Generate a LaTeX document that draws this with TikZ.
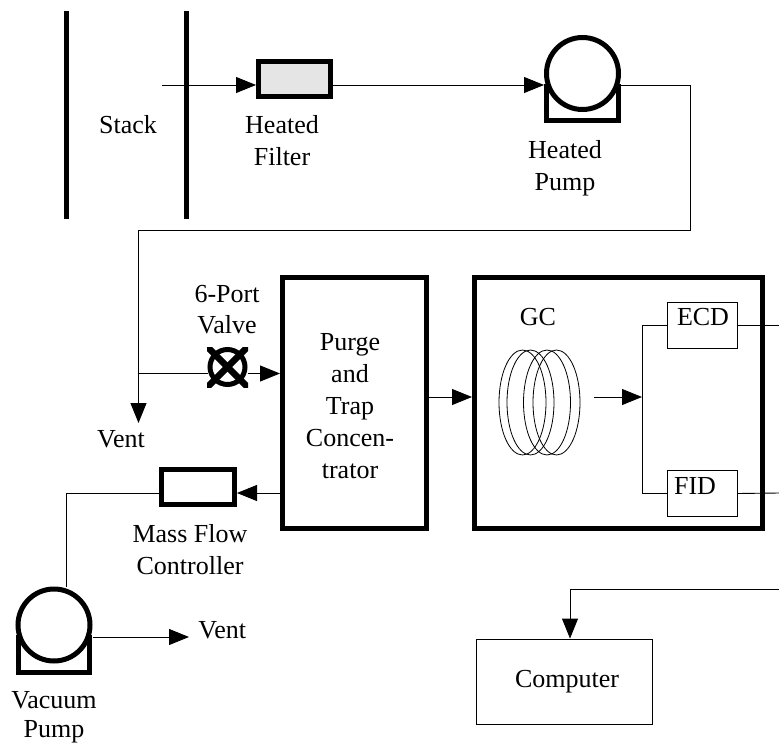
\documentclass[tikz,border=0pt]{standalone}
\usepackage{fontspec}
\setmainfont{Liberation Serif}
\usetikzlibrary{arrows.meta, calc}

\begin{document}
\begin{tikzpicture}[
        x = 1pt, y = -1pt, line width = 0.9pt, line join = miter,
        font = \fontsize{26}{32}\selectfont,
        flow/.style = {-{Triangle[length = 20pt, width = 16pt]}},
        heavy/.style = {line width = 5pt},
        vessel/.style = {draw, heavy, inner sep = 0},
        pumpbody/.style = {vessel, circle, minimum size = 72},
        label/.style = {anchor = base, align = center, inner sep = 0}]
        \useasboundingbox (0, 0) rectangle (779, 744);
        \draw[heavy] (66, 11) -- (66, 219);
        \draw[heavy] (186, 11) -- (186, 219);
        \node[label] at (128, 133) (stack) {Stack};
        \coordinate (stack_tap) at (162, 85);

        \node[vessel, fill = black!10, minimum width = 72, minimum height = 35]
            at (294.5, 79) (filter) {};
        \node[label] at (282, 133) (filter_top) {Heated};
        \node[label] at (282, 165) (filter_bottom) {Filter};

        \node[pumpbody] at (582.5, 73.5) (heated_pump) {};
        \draw[heavy] ($ (heated_pump) + (-36, 10) $) -- ++(0, 37) -- ++(72, 0) -- ++(0, -37);
        \node[label] at (565, 158) (heated_top) {Heated};
        \node[label] at (565, 190) (heated_bottom) {Pump};

        \node[vessel, circle, minimum size = 35] at (227.5, 367) (valve) {};
        \begin{scope}
            \clip ($ (valve) + (-20.5, -20) $) rectangle ($ (valve) + (20.5, 20) $);
            \draw[line width = 6.5pt] ($ (valve) + (-25, -25) $) -- ($ (valve) + (25, 25) $);
            \draw[line width = 6.5pt] ($ (valve) + (-25, 25) $) -- ($ (valve) + (25, -25) $);
        \end{scope}
        \node[label] at (227, 302) (valve_top) {6-Port};
        \node[label] at (227, 333) (valve_bottom) {Valve};

        \node[vessel, minimum width = 144, minimum height = 250.5]
            at (354.5, 402.75) (purge) {};
        \node[label] at (350, 350) (purge_a) {Purge};
        \node[label] at (350, 382) (purge_b) {and};
        \node[label] at (350, 414) (purge_c) {Trap};
        \node[label] at (350, 446) (purge_d) {Concen-};
        \node[label] at (350, 478) (purge_e) {trator};

        \node[vessel, minimum width = 288, minimum height = 250.5]
            at (618.5, 402.75) (gc) {};
        \node[label] at (538, 325) (gc_label) {GC};
        \foreach \cx in {522.5, 530.5, 547, 556.5}
            \draw[line width = 0.8pt] (\cx, 402.5) ellipse (23.5 and 52.5);
        \coordinate (gc_out) at (594, 397);

        \node[draw, minimum width = 70, minimum height = 46] at (702, 325) (ecd) {};
        \node[label] at (703, 325) (ecd_label) {ECD};
        \node[draw, minimum width = 70, minimum height = 46] at (702, 493.5) (fid) {};
        \node[label] at (695, 494) (fid_label) {FID};
        \coordinate (branch) at (642, 397);

        \node[label] at (121, 447) (vent_a) {Vent};

        \node[vessel, minimum width = 73, minimum height = 35]
            at (198, 487) (mfc) {};
        \node[label] at (190, 542) (mfc_top) {Mass Flow};
        \node[label] at (190, 574) (mfc_bottom) {Controller};
        \coordinate (mfc_level) at (198, 493);

        \node[pumpbody] at (54, 625) (vacuum_pump) {};
        \draw[heavy] ($ (vacuum_pump) + (-35.5, 10) $) -- ++(0, 37.5) -- ++(71, 0) -- ++(0, -37.5);
        \node[label] at (54, 708) (vacuum_top) {Vacuum};
        \node[label] at (54, 737) (vacuum_bottom) {Pump};
        \node[label, anchor = base west] at (198, 638) (vent_b) {Vent};
        \coordinate (vent_b_tip) at (189, 637);

        \node[draw, minimum width = 176, minimum height = 85] at (564, 681.5) (computer) {};
        \node[label] at (567, 687) (computer_label) {Computer};

        \coordinate (ecd_end) at (779, 325);
        \coordinate (fid_end) at (779, 493);
        \coordinate (computer_start) at (779, 589);
        \coordinate (computer_turn) at (570, 589);
        \coordinate (loop_right) at (690, 230);
        \coordinate (loop_left) at (138.5, 230);
        \coordinate (vent_a_tip) at (138.5, 423);
        \coordinate (valve_tap) at (138.5, 373.5);
        \coordinate (vacuum_tap) at (66, 493);

        \draw[flow] (stack_tap) -- (filter.west |- stack_tap);
        \draw[flow] (filter.east |- stack_tap) -- (heated_pump.west |- stack_tap);
        \draw (heated_pump.east |- stack_tap) -| (loop_right) -- (loop_left) -- (valve_tap);
        \draw[flow] (valve_tap) -- (vent_a_tip);
        \draw (valve_tap) -- (valve.west |- valve_tap);
        \draw[flow] (valve.east |- valve_tap) -- (purge.west |- valve_tap);
        \draw[flow] (purge.east |- gc_out) -- (gc.west |- gc_out);
        \draw[flow] (gc_out) -- (branch);
        \draw (ecd.west) -| (branch);
        \draw (fid.west) -| (branch);
        \draw (ecd.east) -- (ecd_end);
        \draw (fid.east) -- (fid_end);
        \draw[flow] (purge.west |- mfc_level) -- (mfc.east |- mfc_level);
        \draw (mfc.west |- mfc_level) -- (vacuum_tap) -- (vacuum_tap |- vacuum_pump.north);
        \draw[flow] (vacuum_pump.east |- vent_b_tip) -- (vent_b_tip);
        \draw (computer_start) -- (computer_turn);
        \draw[flow] (computer_turn) -- (computer_turn |- computer.north);
    \end{tikzpicture}
\end{document}
